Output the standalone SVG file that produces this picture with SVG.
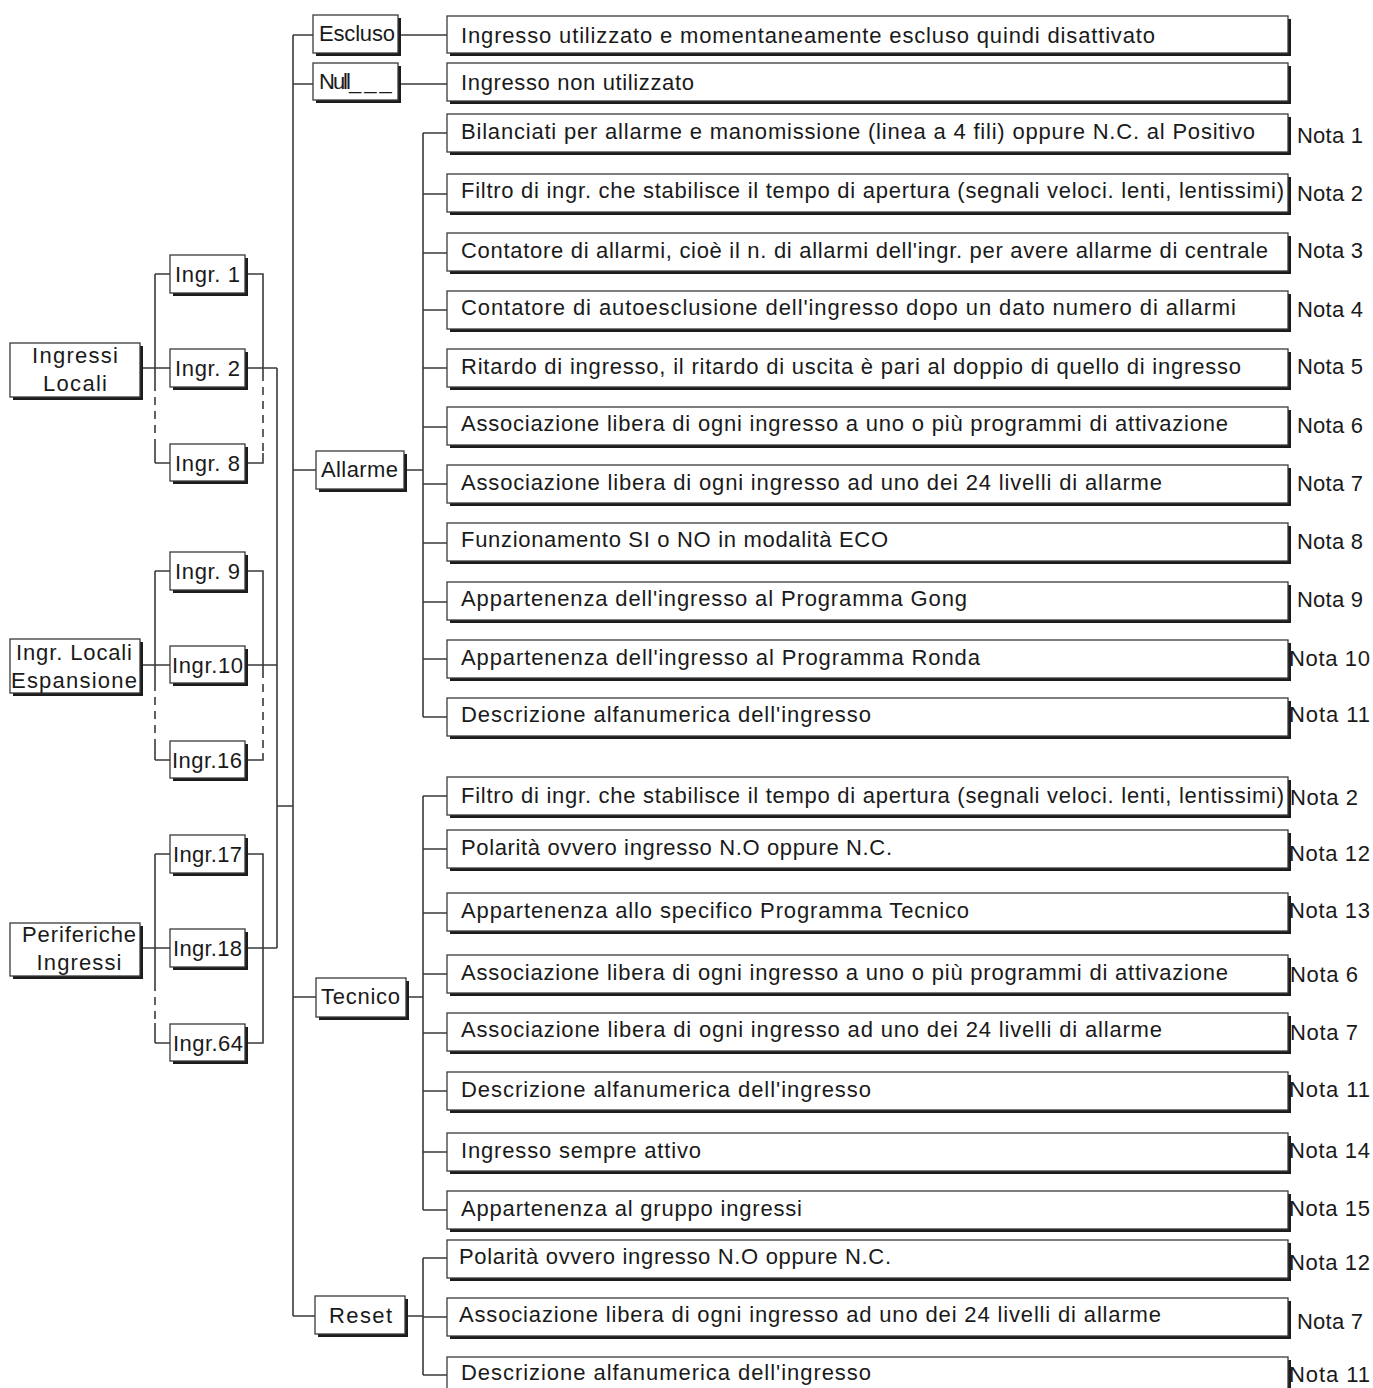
<svg xmlns="http://www.w3.org/2000/svg" width="1373" height="1388" viewBox="0 0 1373 1388">
<style>
.sh{fill:#1c1c1c}
.bx{fill:#fff;stroke:#3a3a3a;stroke-width:1.3}
.t{font-family:"Liberation Sans",Arial,sans-serif;font-size:22px;fill:#1a1a1a}
.tc{font-family:"Liberation Sans",Arial,sans-serif;font-size:22px;fill:#1a1a1a;text-anchor:middle}
.ln{stroke:#3a3a3a;stroke-width:1.6;fill:none}
.da{stroke:#3a3a3a;stroke-width:1.6;fill:none;stroke-dasharray:8,6}
</style>
<rect width="1373" height="1388" fill="#fff"/>
<g id="connectors">
<path class="ln" d="M143 368H170M155 274V383M155 444V463M155 274H170M155 463H170M245 274H263V373M263 453V463H245M245 368H277"/>
<path class="da" d="M155 383V444M263 373V453"/>
<path class="ln" d="M143 665H170M155 571V683M155 740V760M155 571H170M155 760H170M245 571H263V670M263 753V760H245M245 665H277"/>
<path class="da" d="M155 683V740M263 670V753"/>
<path class="ln" d="M143 948H170M155 854V983M155 1023V1043M155 854H170M155 1043H170M245 854H263V1043H245M245 948H277"/>
<path class="da" d="M155 983V1023"/>
<path class="ln" d="M277 368V948M277 806H293"/>
<path class="ln" d="M293 35V1316M293 35H313M293 84H313M293 470H316M293 997H316M293 1316H315"/>
<path class="ln" d="M398 35H447M398 84H447"/>
<path class="ln" d="M404 470H423M423 133V717M423 133H447M423 194H447M423 253H447M423 310H447M423 368H447M423 427H447M423 484H447M423 543H447M423 602H447M423 659H447M423 717H447"/>
<path class="ln" d="M406 997H423M423 796V1210M423 796H447M423 849H447M423 913H447M423 974H447M423 1033H447M423 1091H447M423 1152H447M423 1210H447"/>
<path class="ln" d="M405 1316H423M423 1258V1375M423 1258H447M423 1317H447M423 1375H447"/>
</g>

<g id="n-ingressi-locali"><rect class="sh" x="13" y="346" width="130" height="54"/><rect class="bx" x="10" y="343" width="130" height="54"/><text class="tc" x="75" y="363" textLength="86" lengthAdjust="spacing">Ingressi</text><text class="tc" x="75" y="391" textLength="64" lengthAdjust="spacing">Locali</text></g>
<g id="n-ingr-locali-esp"><rect class="sh" x="13" y="642" width="130" height="54"/><rect class="bx" x="10" y="639" width="130" height="54"/><text class="tc" x="74" y="660" textLength="116" lengthAdjust="spacing">Ingr. Locali</text><text class="tc" x="74" y="688" textLength="126" lengthAdjust="spacing">Espansione</text></g>
<g id="n-periferiche"><rect class="sh" x="13" y="926" width="130" height="53"/><rect class="bx" x="10" y="923" width="130" height="53"/><text class="tc" x="79" y="942" textLength="114" lengthAdjust="spacing">Periferiche</text><text class="tc" x="79" y="970" textLength="85" lengthAdjust="spacing">Ingressi</text></g>

<g id="n-ingr1"><rect class="sh" x="173" y="258" width="75" height="38"/><rect class="bx" x="170" y="255" width="75" height="38"/><text class="t" x="175" y="282" textLength="65" lengthAdjust="spacing">Ingr. 1</text></g>
<g id="n-ingr2"><rect class="sh" x="173" y="352" width="75" height="38"/><rect class="bx" x="170" y="349" width="75" height="38"/><text class="t" x="175" y="376" textLength="65" lengthAdjust="spacing">Ingr. 2</text></g>
<g id="n-ingr8"><rect class="sh" x="173" y="447" width="75" height="37"/><rect class="bx" x="170" y="444" width="75" height="37"/><text class="t" x="175" y="471" textLength="65" lengthAdjust="spacing">Ingr. 8</text></g>
<g id="n-ingr9"><rect class="sh" x="173" y="555" width="75" height="38"/><rect class="bx" x="170" y="552" width="75" height="38"/><text class="t" x="175" y="579" textLength="65" lengthAdjust="spacing">Ingr. 9</text></g>
<g id="n-ingr10"><rect class="sh" x="173" y="649" width="75" height="37"/><rect class="bx" x="170" y="646" width="75" height="37"/><text class="t" x="172" y="673" textLength="71" lengthAdjust="spacing">Ingr.10</text></g>
<g id="n-ingr16"><rect class="sh" x="173" y="744" width="75" height="37"/><rect class="bx" x="170" y="741" width="75" height="37"/><text class="t" x="172" y="768" textLength="70" lengthAdjust="spacing">Ingr.16</text></g>
<g id="n-ingr17"><rect class="sh" x="173" y="838" width="75" height="38"/><rect class="bx" x="170" y="835" width="75" height="38"/><text class="t" x="173" y="862" textLength="69" lengthAdjust="spacing">Ingr.17</text></g>
<g id="n-ingr18"><rect class="sh" x="173" y="932" width="75" height="38"/><rect class="bx" x="170" y="929" width="75" height="38"/><text class="t" x="173" y="956" textLength="69" lengthAdjust="spacing">Ingr.18</text></g>
<g id="n-ingr64"><rect class="sh" x="173" y="1027" width="75" height="37"/><rect class="bx" x="170" y="1024" width="75" height="37"/><text class="t" x="173" y="1051" textLength="70" lengthAdjust="spacing">Ingr.64</text></g>

<g id="n-escluso"><rect class="sh" x="316" y="18" width="85" height="38"/><rect class="bx" x="313" y="15" width="85" height="38"/><text class="t" x="319" y="41" textLength="76" lengthAdjust="spacing">Escluso</text></g>
<g id="n-null"><rect class="sh" x="316" y="66" width="85" height="37"/><rect class="bx" x="313" y="63" width="85" height="37"/><text class="t" x="319" y="89"><tspan letter-spacing="-2">Null</tspan><tspan letter-spacing="3">___</tspan></text></g>
<g id="n-allarme"><rect class="sh" x="319" y="454" width="88" height="38"/><rect class="bx" x="316" y="451" width="88" height="38"/><text class="t" x="321" y="477" textLength="77" lengthAdjust="spacing">Allarme</text></g>
<g id="n-tecnico"><rect class="sh" x="319" y="981" width="90" height="39"/><rect class="bx" x="316" y="978" width="90" height="39"/><text class="t" x="321" y="1004" textLength="79" lengthAdjust="spacing">Tecnico</text></g>
<g id="n-reset"><rect class="sh" x="318" y="1299" width="90" height="38"/><rect class="bx" x="315" y="1296" width="90" height="38"/><text class="t" x="329" y="1323" textLength="63" lengthAdjust="spacing">Reset</text></g>

<g id="d-escluso"><rect class="sh" x="450" y="19" width="841" height="37"/><rect class="bx" x="447" y="16" width="841" height="37"/><text class="t" x="461" y="43" textLength="694" lengthAdjust="spacing">Ingresso utilizzato e momentaneamente escluso quindi disattivato</text></g>
<g id="d-null"><rect class="sh" x="450" y="66" width="841" height="38"/><rect class="bx" x="447" y="63" width="841" height="38"/><text class="t" x="461" y="90" textLength="233" lengthAdjust="spacing">Ingresso non utilizzato</text></g>

<g id="d-a1"><rect class="sh" x="450" y="117" width="841" height="38"/><rect class="bx" x="447" y="114" width="841" height="38"/><text class="t" x="461" y="139" textLength="794" lengthAdjust="spacing">Bilanciati per allarme e manomissione (linea a 4 fili) oppure N.C. al Positivo</text><text class="t" x="1297" y="143" textLength="66" lengthAdjust="spacing">Nota 1</text></g>
<g id="d-a2"><rect class="sh" x="450" y="177" width="841" height="38"/><rect class="bx" x="447" y="174" width="841" height="38"/><text class="t" x="461" y="198" textLength="823" lengthAdjust="spacing">Filtro di ingr. che stabilisce il tempo di apertura (segnali veloci. lenti, lentissimi)</text><text class="t" x="1297" y="201" textLength="66" lengthAdjust="spacing">Nota 2</text></g>
<g id="d-a3"><rect class="sh" x="450" y="236" width="841" height="38"/><rect class="bx" x="447" y="233" width="841" height="38"/><text class="t" x="461" y="258" textLength="807" lengthAdjust="spacing">Contatore di allarmi, cioè il n. di allarmi dell'ingr. per avere allarme di centrale</text><text class="t" x="1297" y="258" textLength="66" lengthAdjust="spacing">Nota 3</text></g>
<g id="d-a4"><rect class="sh" x="450" y="294" width="841" height="38"/><rect class="bx" x="447" y="291" width="841" height="38"/><text class="t" x="461" y="315" textLength="775" lengthAdjust="spacing">Contatore di autoesclusione dell'ingresso dopo un dato numero di allarmi</text><text class="t" x="1297" y="317" textLength="66" lengthAdjust="spacing">Nota 4</text></g>
<g id="d-a5"><rect class="sh" x="450" y="352" width="841" height="38"/><rect class="bx" x="447" y="349" width="841" height="38"/><text class="t" x="461" y="374" textLength="780" lengthAdjust="spacing">Ritardo di ingresso, il ritardo di uscita è pari al doppio di quello di ingresso</text><text class="t" x="1297" y="374" textLength="66" lengthAdjust="spacing">Nota 5</text></g>
<g id="d-a6"><rect class="sh" x="450" y="410" width="841" height="38"/><rect class="bx" x="447" y="407" width="841" height="38"/><text class="t" x="461" y="431" textLength="767" lengthAdjust="spacing">Associazione libera di ogni ingresso a uno o più programmi di attivazione</text><text class="t" x="1297" y="433" textLength="66" lengthAdjust="spacing">Nota 6</text></g>
<g id="d-a7"><rect class="sh" x="450" y="468" width="841" height="38"/><rect class="bx" x="447" y="465" width="841" height="38"/><text class="t" x="461" y="490" textLength="701" lengthAdjust="spacing">Associazione libera di ogni ingresso ad uno dei 24 livelli di allarme</text><text class="t" x="1297" y="491" textLength="66" lengthAdjust="spacing">Nota 7</text></g>
<g id="d-a8"><rect class="sh" x="450" y="526" width="841" height="38"/><rect class="bx" x="447" y="523" width="841" height="38"/><text class="t" x="461" y="547" textLength="427" lengthAdjust="spacing">Funzionamento SI o NO in modalità ECO</text><text class="t" x="1297" y="549" textLength="66" lengthAdjust="spacing">Nota 8</text></g>
<g id="d-a9"><rect class="sh" x="450" y="585" width="841" height="38"/><rect class="bx" x="447" y="582" width="841" height="38"/><text class="t" x="461" y="606" textLength="506" lengthAdjust="spacing">Appartenenza dell'ingresso al Programma Gong</text><text class="t" x="1297" y="607" textLength="66" lengthAdjust="spacing">Nota 9</text></g>
<g id="d-a10"><rect class="sh" x="450" y="643" width="841" height="38"/><rect class="bx" x="447" y="640" width="841" height="38"/><text class="t" x="461" y="665" textLength="519" lengthAdjust="spacing">Appartenenza dell'ingresso al Programma Ronda</text><text class="t" x="1289" y="666" textLength="81" lengthAdjust="spacing">Nota 10</text></g>
<g id="d-a11"><rect class="sh" x="450" y="701" width="841" height="38"/><rect class="bx" x="447" y="698" width="841" height="38"/><text class="t" x="461" y="722" textLength="410" lengthAdjust="spacing">Descrizione alfanumerica dell'ingresso</text><text class="t" x="1289" y="722" textLength="81" lengthAdjust="spacing">Nota 11</text></g>

<g id="d-t1"><rect class="sh" x="450" y="780" width="841" height="38"/><rect class="bx" x="447" y="777" width="841" height="38"/><text class="t" x="461" y="803" textLength="823" lengthAdjust="spacing">Filtro di ingr. che stabilisce il tempo di apertura (segnali veloci. lenti, lentissimi)</text><text class="t" x="1290" y="805" textLength="68" lengthAdjust="spacing">Nota 2</text></g>
<g id="d-t2"><rect class="sh" x="450" y="833" width="841" height="38"/><rect class="bx" x="447" y="830" width="841" height="38"/><text class="t" x="461" y="855" textLength="431" lengthAdjust="spacing">Polarità ovvero ingresso N.O oppure N.C.</text><text class="t" x="1289" y="861" textLength="81" lengthAdjust="spacing">Nota 12</text></g>
<g id="d-t3"><rect class="sh" x="450" y="896" width="841" height="38"/><rect class="bx" x="447" y="893" width="841" height="38"/><text class="t" x="461" y="918" textLength="508" lengthAdjust="spacing">Appartenenza allo specifico Programma Tecnico</text><text class="t" x="1289" y="918" textLength="81" lengthAdjust="spacing">Nota 13</text></g>
<g id="d-t4"><rect class="sh" x="450" y="958" width="841" height="38"/><rect class="bx" x="447" y="955" width="841" height="38"/><text class="t" x="461" y="980" textLength="767" lengthAdjust="spacing">Associazione libera di ogni ingresso a uno o più programmi di attivazione</text><text class="t" x="1290" y="982" textLength="68" lengthAdjust="spacing">Nota 6</text></g>
<g id="d-t5"><rect class="sh" x="450" y="1016" width="841" height="38"/><rect class="bx" x="447" y="1013" width="841" height="38"/><text class="t" x="461" y="1037" textLength="701" lengthAdjust="spacing">Associazione libera di ogni ingresso ad uno dei 24 livelli di allarme</text><text class="t" x="1290" y="1040" textLength="68" lengthAdjust="spacing">Nota 7</text></g>
<g id="d-t6"><rect class="sh" x="450" y="1075" width="841" height="38"/><rect class="bx" x="447" y="1072" width="841" height="38"/><text class="t" x="461" y="1097" textLength="410" lengthAdjust="spacing">Descrizione alfanumerica dell'ingresso</text><text class="t" x="1289" y="1097" textLength="81" lengthAdjust="spacing">Nota 11</text></g>
<g id="d-t7"><rect class="sh" x="450" y="1136" width="841" height="38"/><rect class="bx" x="447" y="1133" width="841" height="38"/><text class="t" x="461" y="1158" textLength="240" lengthAdjust="spacing">Ingresso sempre attivo</text><text class="t" x="1289" y="1158" textLength="81" lengthAdjust="spacing">Nota 14</text></g>
<g id="d-t8"><rect class="sh" x="450" y="1194" width="841" height="38"/><rect class="bx" x="447" y="1191" width="841" height="38"/><text class="t" x="461" y="1216" textLength="341" lengthAdjust="spacing">Appartenenza al gruppo ingressi</text><text class="t" x="1289" y="1216" textLength="81" lengthAdjust="spacing">Nota 15</text></g>

<g id="d-r1"><rect class="sh" x="450" y="1243" width="841" height="38"/><rect class="bx" x="447" y="1240" width="841" height="38"/><text class="t" x="459" y="1264" textLength="432" lengthAdjust="spacing">Polarità ovvero ingresso N.O oppure N.C.</text><text class="t" x="1289" y="1270" textLength="81" lengthAdjust="spacing">Nota 12</text></g>
<g id="d-r2"><rect class="sh" x="450" y="1301" width="841" height="38"/><rect class="bx" x="447" y="1298" width="841" height="38"/><text class="t" x="459" y="1322" textLength="702" lengthAdjust="spacing">Associazione libera di ogni ingresso ad uno dei 24 livelli di allarme</text><text class="t" x="1297" y="1329" textLength="66" lengthAdjust="spacing">Nota 7</text></g>
<g id="d-r3"><rect class="sh" x="450" y="1360" width="841" height="38"/><rect class="bx" x="447" y="1357" width="841" height="38"/><text class="t" x="461" y="1380" textLength="410" lengthAdjust="spacing">Descrizione alfanumerica dell'ingresso</text><text class="t" x="1289" y="1382" textLength="81" lengthAdjust="spacing">Nota 11</text></g>
</svg>
